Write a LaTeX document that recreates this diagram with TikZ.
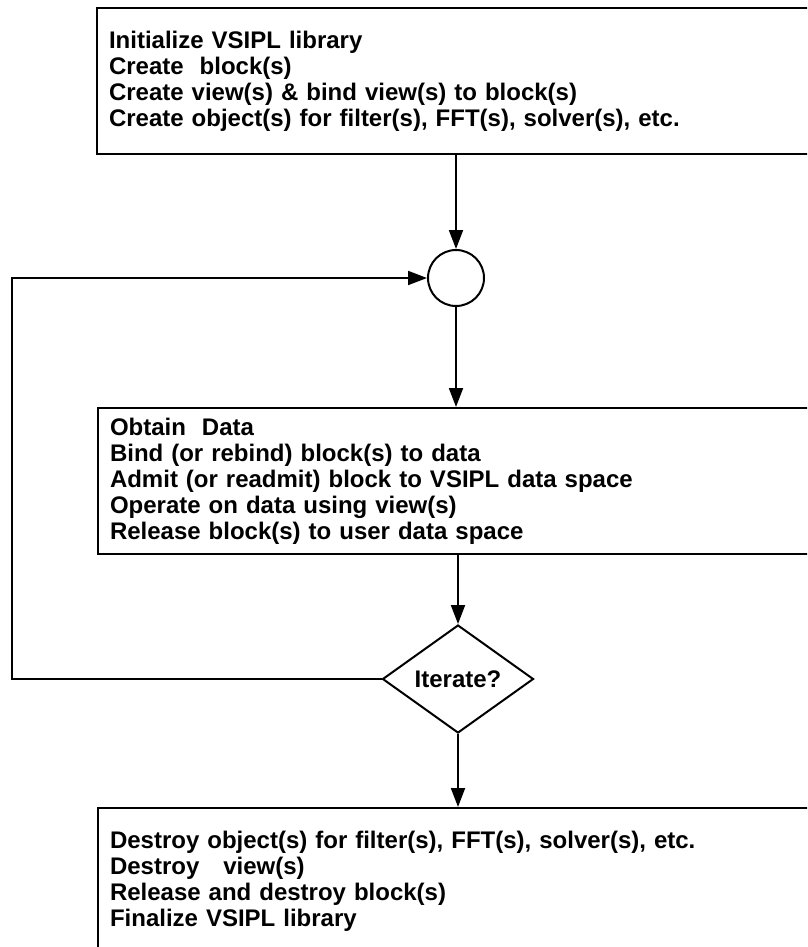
\documentclass[tikz,border=0pt]{standalone}
\usepackage{fontspec}
\newfontfamily\diafont[WordSpace=1.8]{Liberation Sans}
\usetikzlibrary{shapes.geometric,arrows.meta}
\tikzset{
  flowbox/.style={draw=black, line width=2pt, rectangle, anchor=north west,
    text width=720pt, align=left, inner xsep=12pt, inner ysep=0pt,
    minimum height=146pt,
    font=\diafont\bfseries\fontsize{24}{26}\selectfont},
  junction/.style={draw=black, line width=2pt, circle, minimum size=56pt, inner sep=0pt},
  decision/.style={draw=black, line width=2pt, diamond, minimum width=151pt,
    minimum height=108pt, inner sep=0pt, font=\diafont\bfseries\fontsize{24}{26}\selectfont},
  flow/.style={line width=2pt, -{Triangle[length=19pt,width=14pt]}}
}
\begin{document}
\begin{tikzpicture}[x=1pt,y=-1pt]
\useasboundingbox (0,0) rectangle (807,947);
\clip (0,0) rectangle (807,947);
\node[flowbox] (top) at (96,7)
  {Initialize VSIPL library\\
   Create\ \ block(s)\\
   Create view(s) \& bind view(s) to block(s)\\
   Create object(s) for filter(s), FFT(s), solver(s), etc.};
\node[junction] (circ) at (456,278) {};
\node[flowbox] (mid) at (97,407)
  {Obtain\ \ Data\\
   Bind (or rebind) block(s) to data\\
   Admit (or readmit) block to VSIPL data space\\
   Operate on data using view(s)\\
   Release block(s) to user data space};
\node[decision] (dia) at (458,679) {Iterate?};
\node[flowbox] (bot) at (97,807)
  {Destroy object(s) for filter(s), FFT(s), solver(s), etc.\\
   Destroy\ \ \ view(s)\\
   Release and destroy block(s)\\
   Finalize VSIPL library};
\coordinate (loopx) at (12,0);
\draw[flow] (circ |- top.south) -- (circ.north);
\draw[flow] (circ.south) -- (circ |- mid.north);
\draw[flow] (dia |- mid.south) -- (dia.north);
\draw[flow] (dia.south) -- (dia |- bot.north);
\draw[flow] (dia.west) -- (dia.west -| loopx) |- (circ.west);
\end{tikzpicture}
\end{document}
